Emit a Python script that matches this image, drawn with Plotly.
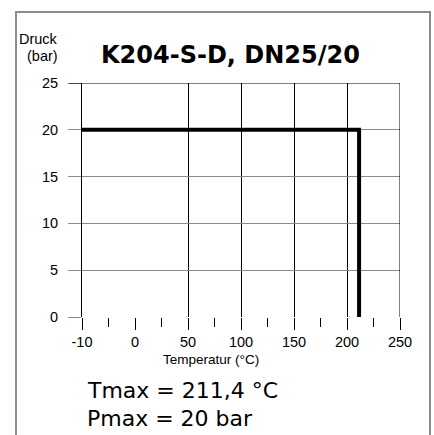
import plotly.graph_objects as go

# Data
temperatures = [-10, 211.4, 211.4]   # °C
pressures = [20, 20, 0]              # bar
x_ticks_low = [-10]
x_ticks_high = [0, 50, 100, 150, 200, 250]
x_minor_low = [-5]
x_minor_high = [25, 75, 125, 175, 225]
y_ticks = [0, 5, 10, 15, 20, 25]
title_text = "K204-S-D, DN25/20"
info_lines = ["Tmax = 211,4 °C", "Pmax = 20 bar"]

W, H = 434, 435
L, R, T, B = 82, 34, 83, 118
PW, PH = W - L - R, H - T - B

def px(x):
    return (x - L) / PW

def py(y):
    return (H - B - y) / PH

split = 53 / PW

fig = go.Figure()
line_style = dict(color="black", width=4)
fig.add_trace(go.Scatter(x=temperatures, y=pressures, mode="lines", line=line_style,
                         xaxis="x", yaxis="y", showlegend=False, hoverinfo="skip"))
fig.add_trace(go.Scatter(x=temperatures, y=pressures, mode="lines", line=line_style,
                         xaxis="x2", yaxis="y", showlegend=False, hoverinfo="skip"))

tickfont = dict(family="Liberation Sans, Arial, sans-serif", size=14.5, color="black")

fig.update_layout(
    width=W, height=H,
    margin=dict(l=L, r=R, t=T, b=B),
    paper_bgcolor="white", plot_bgcolor="white",
    showlegend=False,
    xaxis=dict(domain=[0, split], range=[-10, 0], anchor="y",
               tickmode="array", tickvals=x_ticks_low, ticktext=[str(v) for v in x_ticks_low],
               showgrid=True, gridcolor="black", gridwidth=1, zeroline=False, showline=False,
               ticks="outside", ticklen=12, tickcolor="black", tickwidth=1,
               minor=dict(tickmode="array", tickvals=x_minor_low, ticks="outside", ticklen=9,
                          tickcolor="black", showgrid=False),
               tickfont=tickfont, ticklabelstandoff=0),
    xaxis2=dict(domain=[split, 1], range=[0, 250], anchor="y",
                tickmode="array", tickvals=x_ticks_high, ticktext=[str(v) for v in x_ticks_high],
                showgrid=True, gridcolor="black", gridwidth=1, zeroline=False, showline=False,
                ticks="outside", ticklen=12, tickcolor="black", tickwidth=1,
                minor=dict(tickmode="array", tickvals=x_minor_high, ticks="outside", ticklen=9,
                           tickcolor="black", showgrid=False),
                tickfont=tickfont, ticklabelstandoff=0),
    yaxis=dict(range=[0, 25], anchor="x", tickmode="array", tickvals=y_ticks,
               showgrid=True, gridcolor="#8a8a8a", gridwidth=1, zeroline=False,
               showline=True, linecolor="black", linewidth=1,
               ticks="outside", ticklen=13, tickcolor="#8a8a8a", tickwidth=1,
               tickfont=tickfont, ticklabelstandoff=7),
)

shapes = [
    # top frame line at 25 bar
    dict(type="line", xref="paper", yref="y", x0=px(69), x1=1, y0=25, y1=25,
         line=dict(color="black", width=1), layer="above"),
    # right frame line at 250 °C
    dict(type="line", xref="x2", yref="y", x0=250, x1=250, y0=0, y1=25,
         line=dict(color="black", width=1), layer="above"),
    # outer panel border
    dict(type="rect", xref="paper", yref="paper", x0=px(16), x1=px(430),
         y0=py(450), y1=py(12), line=dict(color="#8c8c8c", width=2),
         fillcolor="rgba(0,0,0,0)", layer="below"),
]
fig.update_layout(shapes=shapes)

small = dict(family="Liberation Sans, Arial, sans-serif", size=14.5, color="black")
annotations = [
    dict(text="Druck", x=px(60), y=py(39), xanchor="right", yanchor="middle", font=small),
    dict(text="(bar)", x=px(60), y=py(56), xanchor="right", yanchor="middle", font=small),
    dict(text=title_text, x=px(230), y=py(55), xanchor="center", yanchor="middle",
         font=dict(family="DejaVu Sans, sans-serif", size=24, color="black", weight="bold")),
    dict(text="Temperatur (°C)", x=px(211), y=py(359), xanchor="center", yanchor="middle",
         font=dict(family="Liberation Sans, Arial, sans-serif", size=13.5, color="black")),
    dict(text=info_lines[0], x=px(85), y=py(390), xanchor="left", yanchor="middle",
         font=dict(family="DejaVu Sans, sans-serif", size=22, color="black")),
    dict(text=info_lines[1], x=px(85), y=py(418), xanchor="left", yanchor="middle",
         font=dict(family="DejaVu Sans, sans-serif", size=22, color="black")),
]
for a in annotations:
    a.update(xref="paper", yref="paper", showarrow=False)
fig.update_layout(annotations=annotations)

fig.write_html("out.html", config={"displayModeBar": False},
               post_script="document.body.style.margin='0px';document.body.style.padding='0px';")
